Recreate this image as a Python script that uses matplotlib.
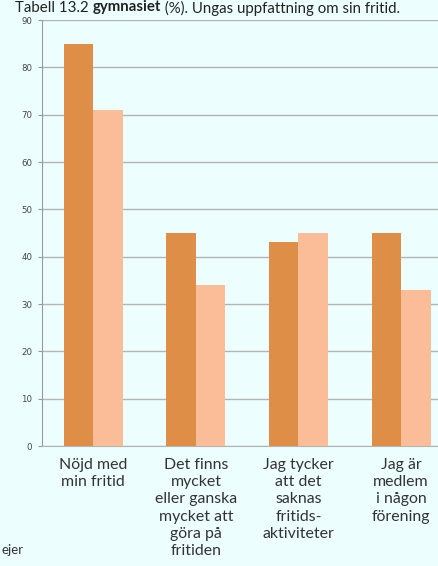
import matplotlib
matplotlib.use("Agg")
import matplotlib.pyplot as plt
import numpy as np

categories = ["Nöjd med\nmin fritid",
              "Det finns\nmycket\neller ganska\nmycket att\ngöra på\nfritiden",
              "Jag tycker\natt det\nsaknas\nfritids-\naktiviteter",
              "Jag är\nmedlem\ni någon\nförening"]
series_a = [85, 45, 43, 45]
series_b = [71, 34, 45, 33]
yticks = [0, 10, 20, 30, 40, 50, 60, 70, 80, 90]

bg = "#ECFFFE"
c_a = "#DF8E48"
c_b = "#FBBC98"

W, H = 438, 566
fig = plt.figure(figsize=(W/100, H/100), dpi=100, facecolor=bg)
ax = fig.add_axes([42/W, (H-446)/H, (W-42)/W, 426/H], facecolor=bg)

x = np.arange(len(categories))
bw = 0.288
ax.bar(x - bw/2, series_a, bw, color=c_a, zorder=3)
ax.bar(x + bw/2, series_b, bw, color=c_b, zorder=3)

ax.set_xlim(-0.5, 3.36)
ax.set_ylim(0, 90)
ax.set_yticks(yticks)
ax.set_yticklabels([str(v) for v in yticks], fontsize=6.2, color="#444444", family="DejaVu Sans")
ax.yaxis.grid(True, color="#b4b4b4", lw=1, zorder=0)
ax.tick_params(axis="y", length=3, color="#999999", pad=4)
ax.set_xticks([])
for s in ["top", "right"]:
    ax.spines[s].set_visible(False)
ax.spines["left"].set_color("#999999")
ax.spines["bottom"].set_color("#b4b4b4")

for xi, lab in zip(x, categories):
    ax.annotate(lab, xy=(xi, 0), xycoords="data", xytext=(0, -8.5), textcoords="offset points",
                ha="center", va="top", fontsize=11.4, color="#333333", family="Lato",
                linespacing=1.3)

# title at top, built from pieces placed one after another
renderer = fig.canvas.get_renderer()
pieces = [("Tabell 13.2 ", "normal"), ("gymnasiet", "bold"), (" (%). Ungas uppfattning om sin fritid.", "normal")]
xpos = 15 / W
for txt, wt in pieces:
    t = fig.text(xpos, 1 - 0.5/H, txt, fontsize=10.8, color="#222222", va="top", ha="left",
                 family="Lato", weight=wt)
    bb = t.get_window_extent(renderer=renderer)
    xpos = bb.x1 / W

# text at bottom left
fig.text(1/W, 1 - 550/H, "ejer", fontsize=9.5, color="#333333", va="center", ha="left", family="Lato")

fig.savefig("out.png", dpi=100, facecolor=bg)
